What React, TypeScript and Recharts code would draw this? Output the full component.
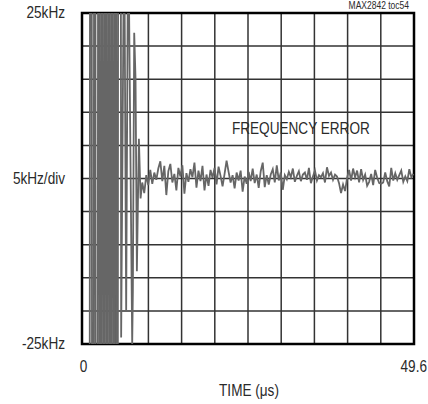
import React from 'react'
import { LineChart, Line, XAxis, YAxis, CartesianGrid, ReferenceArea, ReferenceDot } from 'recharts'

// settling burst right after the hop (kHz, beyond ±25 is off scale)
const burstTimes = [
  0, 1.15, 1.2, 1.45, 1.5, 1.75, 1.8, 2.0, 2.05, 2.35, 2.4, 2.6, 2.65, 2.85, 2.9, 3.1, 3.15, 3.35, 3.4, 3.6,
  3.65, 3.85, 3.9, 4.1, 4.15, 4.35, 4.4, 4.6, 4.65, 4.85, 4.9, 5.1, 5.15, 5.35, 5.4, 5.8, 5.85, 6.3, 6.6, 6.9,
  7.5, 7.6, 7.8, 8.0, 8.2, 8.5, 8.75,
]
const burstKHz = [
  -40, -40, 40, 40, -40, -40, 40, 40, -40, -40, 40, 40, -40, -40, 40, 40, -40, -40, 40, 40,
  -40, -40, 40, 40, -40, -40, 40, 40, -40, -40, 40, 40, -40, -40, 40, 40, -24, 40, -20, 40,
  -25, -17, 22, 15, -14, 6, -3,
]

// residual error, sampled every 0.3 us from 9.0 us
const noiseStartUs = 9.0
const noiseStepUs = 0.3
const noiseKHz = [
  -0.6, -2.2, 0.5, -1.0, 1.3, -0.8, 0.9, -0.2, 1.5, 2.6, -0.4, 1.9, -2.5, 1.1, 2.2, -0.6, 0.7, -1.8, 1.6, 0.3,
  2.0, -2.3, 0.8, -0.5, 1.4, 0.2, 2.4, -1.4, 1.2, -0.4,
  1.9, -1.8, 0.6, -1.1, 1.3, 0.1, 1.6, -0.9, 1.8, 0.4, -1.2, 0.7, 2.7, 1.0, -0.6, 0.5, -1.5, 0.9, -0.3, 1.2,
  -2.0, 0.3, -0.8, 1.0, -0.4, 1.5, -0.7, 0.6, -1.4, 1.1,
  2.4, -1.3, 0.5, -0.9, 0.6, 1.4, -0.6, 2.0, -0.3, 0.9, -1.7, 0.5, -0.1, 1.0, 0.2, 1.5, -0.5, 0.4, 1.1, -0.4,
  0.6, 0.9, -0.2, 1.6, -0.7, 0.3, 1.2, -0.3, 0.5, 0.2,
  0.8, -0.6, 1.7, 0.4, 0.9, -0.2, 0.6, 0.3, -0.7, -2.2, -0.9, -1.9, 0.1, 1.3, -0.3, 1.5, 0.2, 1.2, -0.6, 1.4,
  -0.2, 0.6, -1.1, -0.5, 0.7, -1.0, 1.3, 0.1, -0.7, -0.8,
  -0.6, 0.9, -0.4, -1.2, 1.6, -0.3, 0.8, -0.2, 0.5, 1.2, -0.5, 0.3, -0.4, 1.4, 0.2, 0.7,
]

const xGridTicks = [0, 4.96, 9.92, 14.88, 19.84, 24.8, 29.76, 34.72, 39.68, 44.64, 49.6]
const yGridTicks = [-25, -20, -15, -10, -5, 0, 5, 10, 15, 20, 25]
const xLabelValues = [0, 49.6]
const xLabelTexts = ['0', '49.6']
const yLabelValues = [25, 0, -25]
const yLabelTexts = ['25kHz', '5kHz/div', '-25kHz']

const FONT = "'Liberation Sans', Arial, sans-serif"
const TEXT = '#2a2a2a'

const data = [
  ...burstTimes.map((t, i) => ({ t, f: burstKHz[i] })),
  ...noiseKHz.map((f, i) => ({ t: +(noiseStartUs + i * noiseStepUs).toFixed(2), f })),
]

// condensed look of the datasheet font
const NText = ({ x, y, anchor = 'middle', size = 16, children }: any) => (
  <text
    transform={`translate(${x},${y}) scale(0.85,1)`}
    textAnchor={anchor}
    dominantBaseline="central"
    fontSize={size}
    fontFamily={FONT}
    fill={TEXT}
  >
    {children}
  </text>
)

const YTick = ({ x, y, payload }: any) => {
  const idx = yLabelValues.indexOf(payload.value)
  if (idx < 0) return <g />
  return <NText x={x} y={y} anchor="end">{yLabelTexts[idx]}</NText>
}

const XTick = ({ x, y, payload }: any) => {
  const idx = xLabelValues.indexOf(payload.value)
  if (idx < 0) return <g />
  if (idx === 0) return <NText x={x + 1.5} y={y}>{xLabelTexts[idx]}</NText>
  return <NText x={x + 13} y={y} anchor="end">{xLabelTexts[idx]}</NText>
}

const TimeLabel = ({ viewBox }: any) => (
  <NText x={viewBox.x + viewBox.width / 2 + 1} y={viewBox.y + 47}>TIME (μs)</NText>
)

const NoteLabel = ({ viewBox }: any) => (
  <NText x={viewBox.x} y={viewBox.y}>FREQUENCY ERROR</NText>
)

export default function App() {
  return (
    <div style={{ position: 'absolute', left: 0, top: 0, width: 428, height: 404, background: '#fff' }}>
      <LineChart width={428} height={404} data={data} margin={{ top: 13, right: 14, left: 0, bottom: 0 }}>
        <XAxis
          dataKey="t"
          type="number"
          domain={[0, 49.6]}
          ticks={xGridTicks}
          interval={0}
          height={60}
          axisLine={false}
          tickLine={false}
          tickSize={0}
          tickMargin={23}
          tick={<XTick />}
          label={<TimeLabel />}
        />
        <YAxis
          type="number"
          domain={[-25, 25]}
          ticks={yGridTicks}
          interval={0}
          allowDataOverflow
          width={82}
          axisLine={false}
          tickLine={false}
          tickSize={0}
          tickMargin={17}
          tick={<YTick />}
        />
        <Line type="linear" dataKey="f" stroke="#666" strokeWidth={1.8} dot={false} isAnimationActive={false} />
        <CartesianGrid stroke="#333" strokeWidth={1.5} />
        <ReferenceArea x1={0} x2={49.6} y1={-25} y2={25} fill="none" stroke="#000" strokeWidth={2.5} fillOpacity={0} />
        <ReferenceDot x={32.7} y={7.6} r={0} stroke="none" fill="none" label={<NoteLabel />} />
        <NText x={409} y={6} anchor="end" size={10}>MAX2842 toc54</NText>
      </LineChart>
    </div>
  )
}
